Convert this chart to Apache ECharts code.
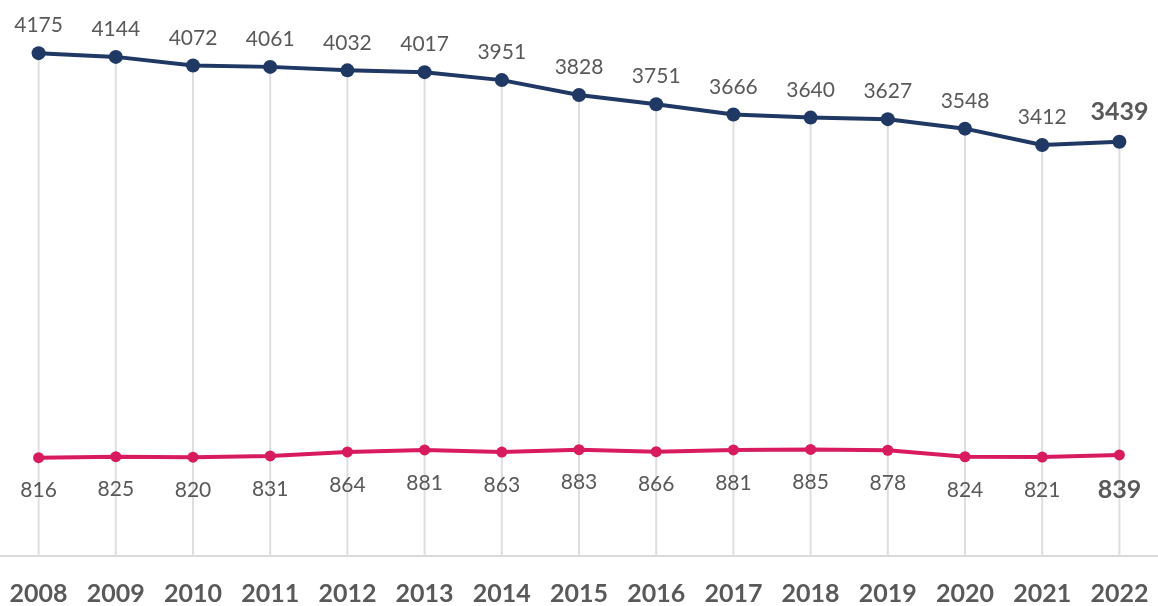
<!DOCTYPE html>
<html>
<head>
<meta charset="utf-8">
<script src="https://cdn.jsdelivr.net/npm/echarts@6/dist/echarts.min.js"></script>
<style>
  html, body { margin: 0; padding: 0; background: #fff; }
  #chart { width: 1158px; height: 606px; }
</style>
</head>
<body>
<div id="chart"></div>
<script>
var years = ['2008','2009','2010','2011','2012','2013','2014','2015','2016','2017','2018','2019','2020','2021','2022'];
var navyValues = [4175,4144,4072,4061,4032,4017,3951,3828,3751,3666,3640,3627,3548,3412,3439];
var pinkValues = [816,825,820,831,864,881,863,883,866,881,885,878,824,821,839];

var navy = '#203864', pink = '#d81b5f', labelGrey = '#595959';

// last point gets a bigger, bold label
function withLastBold(vals, size){
	return vals.map(function(v, i){
		if(i === vals.length - 1){
			return { value: v, label: { fontWeight: 'bold', fontSize: size } };
		}
		return v;
	});
}

var chart = echarts.init(document.getElementById('chart'));
chart.setOption({
	animation: false,
	grid: { left: 0, right: 0, top: 14, bottom: 50 },
	xAxis: {
		type: 'category',
		data: years,
		boundaryGap: true,
		axisLine: { lineStyle: { color: '#d9d9d9', width: 2 } },
		axisTick: { show: false },
		axisLabel: {
			color: labelGrey, fontFamily: 'Lato', fontWeight: 'bold', fontSize: 25, margin: 25
		},
		splitLine: { show: false }
	},
	yAxis: {
		type: 'value', min: 0, max: 4500,
		show: false, splitLine: { show: false }
	},
	series: [
		{
			// drop lines from the upper line to the axis
			type: 'bar',
			data: navyValues,
			barWidth: 2,
			silent: true,
			z: 1,
			itemStyle: { color: '#dedede' }
		},
		{
			name: 'top',
			type: 'line',
			data: withLastBold(navyValues, 25),
			symbol: 'circle',
			symbolSize: 14,
			z: 3,
			lineStyle: { color: navy, width: 4 },
			itemStyle: { color: navy },
			label: {
				show: true, position: 'top', distance: 10,
				color: labelGrey, fontFamily: 'Lato', fontSize: 21
			}
		},
		{
			name: 'bottom',
			type: 'line',
			data: withLastBold(pinkValues, 25),
			symbol: 'circle',
			symbolSize: 11,
			z: 3,
			lineStyle: { color: pink, width: 4 },
			itemStyle: { color: pink },
			label: {
				show: true, position: 'bottom', distance: 17,
				color: labelGrey, fontFamily: 'Lato', fontSize: 21
			}
		}
	]
});
</script>
</body>
</html>
